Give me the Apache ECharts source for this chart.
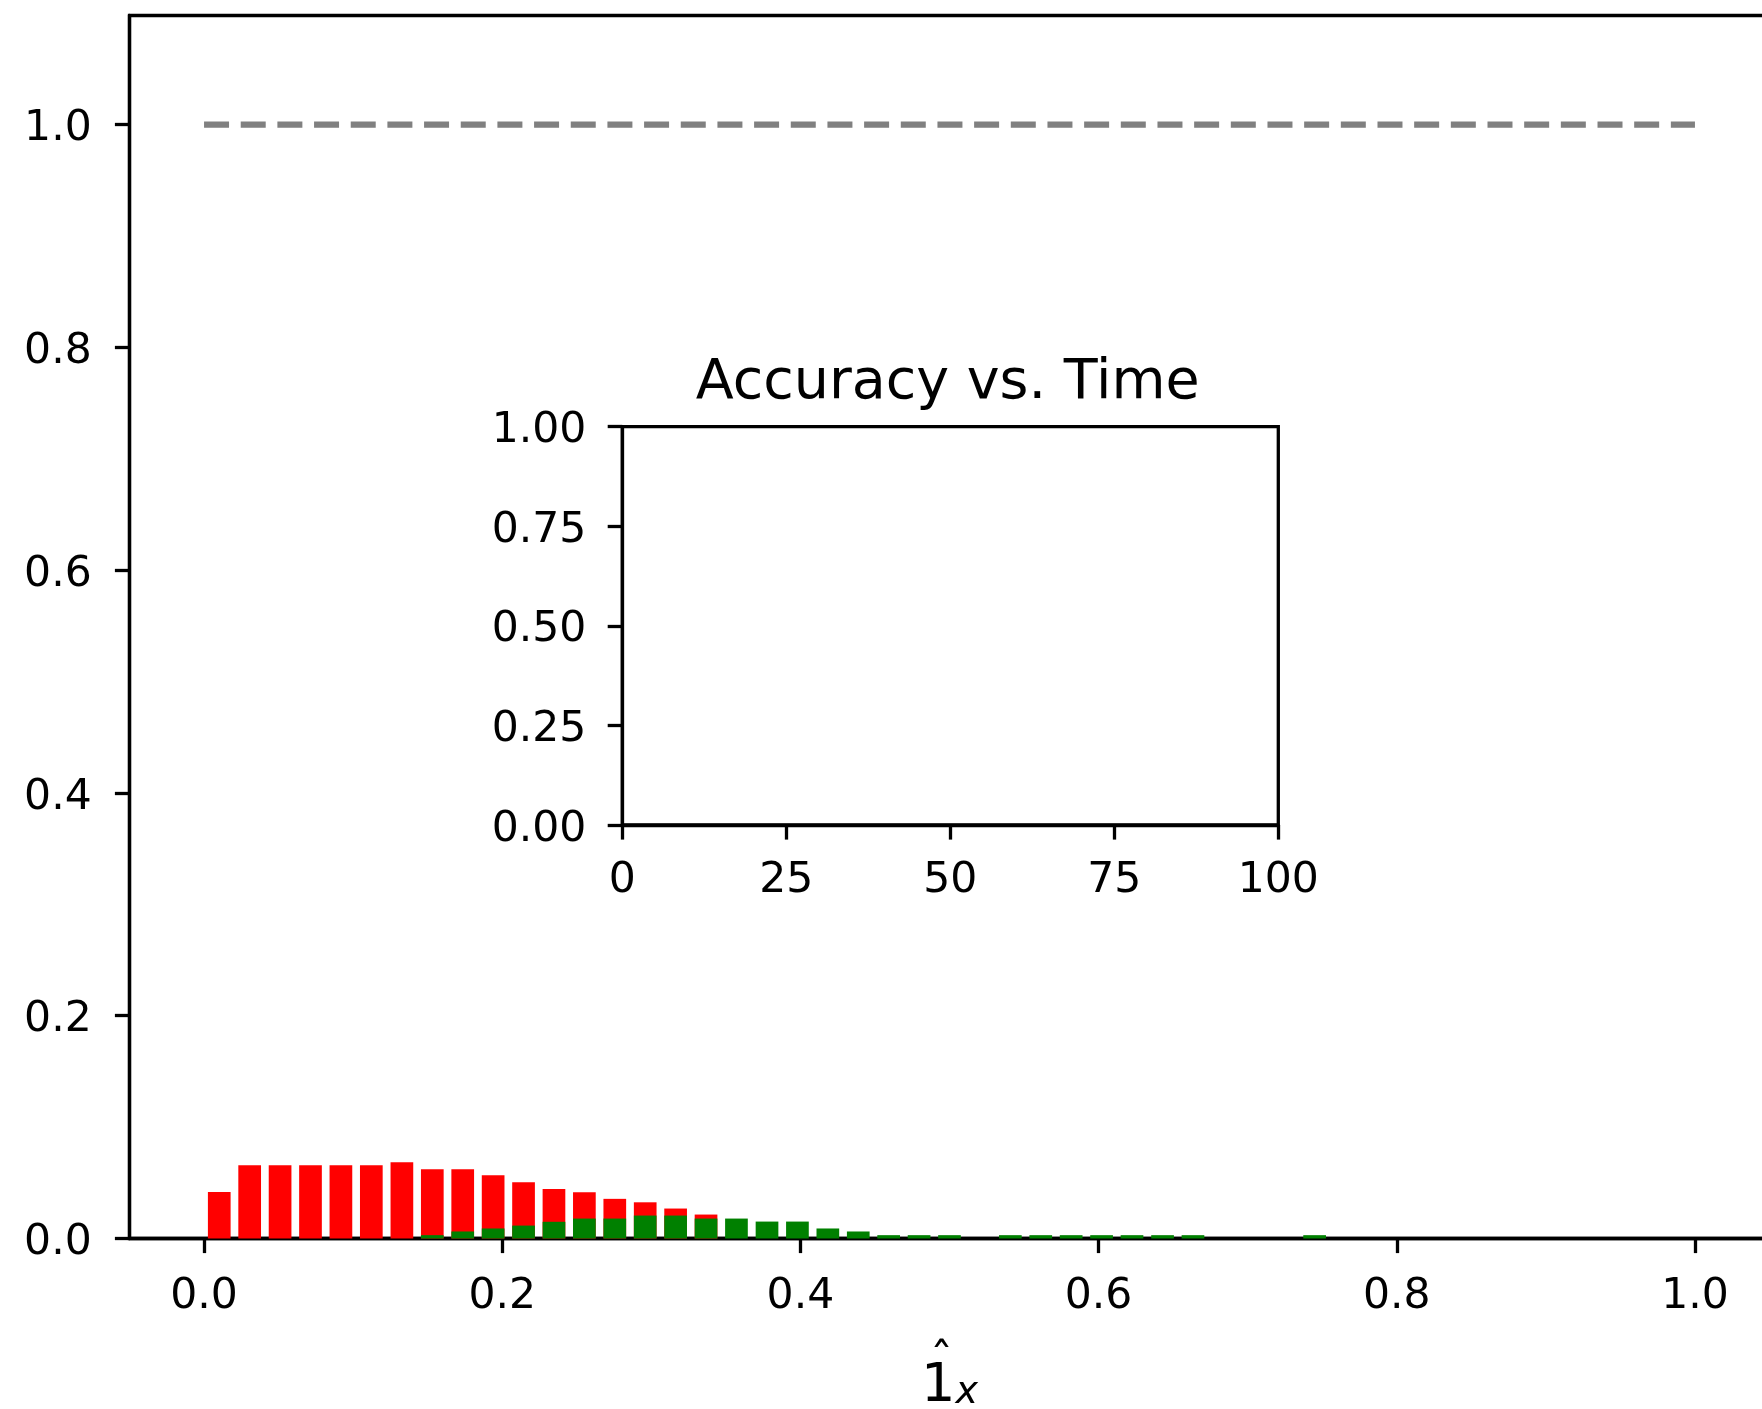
<!DOCTYPE html>
<html><head><meta charset="utf-8">
<script src="https://cdn.jsdelivr.net/npm/echarts@6/dist/echarts.min.js"></script>
<style>html,body{margin:0;padding:0;background:#fff}#chart{width:1762px;height:1409px}</style>
</head><body><div id="chart"></div>
<script>
// histogram bin centres (49 bins over [0,1]); only bins up to 0.745 hold bars
const binCenters = [0.0102,0.0306,0.0510,0.0714,0.0918,0.1122,0.1327,0.1531,0.1735,0.1939,
  0.2143,0.2347,0.2551,0.2755,0.2959,0.3163,0.3367,0.3571,0.3776,0.3980,
  0.4184,0.4388,0.4592,0.4796,0.5000,0.5204,0.5408,0.5612,0.5816,0.6020,
  0.6224,0.6429,0.6633,0.6837,0.7041,0.7245,0.7449];
// red bar tops (first 17 bins)
const redValues = [0.0418,0.0657,0.0657,0.0657,0.0657,0.0657,0.0684,0.0621,0.0621,0.0567,
  0.0505,0.0445,0.0415,0.0356,0.0325,0.0269,0.0215];
// green bar tops (drawn over the red)
const greenValues = [0,0,0,0,0,0,0,0.0030,0.0063,0.0090,
  0.0116,0.0150,0.0179,0.0179,0.0206,0.0206,0.0179,0.0179,0.0152,0.0152,
  0.0090,0.0063,0.0030,0.0030,0.0030,0,0.0030,0.0030,0.0030,0.0030,
  0.0030,0.0030,0.0030,0,0,0,0.0030];
const refLineX = [0, 1];
const refLineY = [1, 1];
const mainXTicks = [0, 0.2, 0.4, 0.6, 0.8, 1.0];
const mainYTicks = [0, 0.2, 0.4, 0.6, 0.8, 1.0];
const insetTitle = 'Accuracy vs. Time';

const FONT = 'DejaVu Sans';
const redData = redValues.map((v, i) => [binCenters[i], v]);
const greenData = greenValues.map((v, i) => [binCenters[i], v]).filter(d => d[1] > 0);
const refData = refLineX.map((x, i) => [x, refLineY[i]]);

const tickStyle = { show: true, length: 14.6, lineStyle: { color: '#000', width: 3.3 } };
const lineStyle = { show: true, onZero: false, lineStyle: { color: '#000', width: 3.3 } };
const labStyle = { color: '#000', fontFamily: FONT, fontSize: 42.5 };
// y labels sit slightly below their tick (matplotlib center_baseline)
const yRich = { v: { color: '#000', fontFamily: FONT, fontSize: 42.5, lineHeight: 49, height: 40, verticalAlign: 'bottom' } };

const chart = echarts.init(document.getElementById('chart'), null, { renderer: 'canvas' });
chart.setOption({
  animation: false,
  backgroundColor: '#fff',
  title: {
    text: insetTitle, left: 942.7, top: 351, textAlign: 'center',
    textStyle: { fontFamily: FONT, fontSize: 55.5, fontWeight: 'normal', color: '#000' }
  },
  grid: [
    { left: 129.5, right: -7.5, top: 15.5, bottom: 170.5, show: true, borderColor: '#000', borderWidth: 3.3, outerBoundsMode: 'none', containLabel: false },
    { left: 622.3, top: 426.7, width: 656, height: 398.3, show: true, borderColor: '#000', borderWidth: 3.3, backgroundColor: '#fff', outerBoundsMode: 'none', containLabel: false, z: 5 }
  ],
  xAxis: [
    {
      type: 'value', gridIndex: 0, min: -0.05, max: 1.05,
      axisLine: lineStyle,
      axisTick: Object.assign({ customValues: mainXTicks }, tickStyle),
      axisLabel: Object.assign({ customValues: mainXTicks, margin: 36.5, formatter: v => v.toFixed(1) }, labStyle),
      splitLine: { show: false },
      name: '{hat|\u02C6}\n{one|1}{sub|x}',
      nameLocation: 'middle', nameGap: 121,
      nameTextStyle: {
        rich: {
          hat: { fontFamily: FONT, fontSize: 46, color: '#000', lineHeight: 10, padding: [0, 16, 0, 0] },
          one: { fontFamily: FONT, fontSize: 54.2, color: '#000', lineHeight: 34 },
          sub: { fontFamily: FONT, fontSize: 38, fontStyle: 'italic', color: '#000', lineHeight: 20, height: 20, verticalAlign: 'bottom' }
        }
      }
    },
    {
      type: 'value', gridIndex: 1, min: 0, max: 100, interval: 25, z: 6,
      axisLine: lineStyle,
      axisTick: tickStyle,
      axisLabel: Object.assign({ margin: 34, formatter: v => String(v) }, labStyle),
      splitLine: { show: false }
    }
  ],
  yAxis: [
    {
      type: 'value', gridIndex: 0, min: 0, max: 1.098,
      axisLine: lineStyle,
      axisTick: Object.assign({ customValues: mainYTicks }, tickStyle),
      axisLabel: Object.assign({ customValues: mainYTicks, margin: 37.8, formatter: v => '{v|' + v.toFixed(1) + '}', rich: yRich }, labStyle),
      splitLine: { show: false }
    },
    {
      type: 'value', gridIndex: 1, min: 0, max: 1, interval: 0.25, z: 6,
      axisLine: lineStyle,
      axisTick: tickStyle,
      axisLabel: Object.assign({ margin: 36, formatter: v => '{v|' + v.toFixed(2) + '}', rich: yRich }, labStyle),
      splitLine: { show: false }
    }
  ],
  series: [
    {
      type: 'bar', xAxisIndex: 0, yAxisIndex: 0, data: redData,
      barWidth: 22.7, barGap: '-100%', itemStyle: { color: '#ff0000' }, z: 2
    },
    {
      type: 'bar', xAxisIndex: 0, yAxisIndex: 0, data: greenData,
      barWidth: 22.7, barGap: '-100%', itemStyle: { color: '#008000' }, z: 3
    },
    {
      type: 'line', xAxisIndex: 0, yAxisIndex: 0, data: refData, symbol: 'none',
      lineStyle: { color: '#808080', width: 6.25, type: [25, 11.67], cap: 'butt' }, z: 4
    },
    {
      type: 'line', xAxisIndex: 1, yAxisIndex: 1, data: [], symbol: 'none'
    }
  ]
});
</script></body></html>
